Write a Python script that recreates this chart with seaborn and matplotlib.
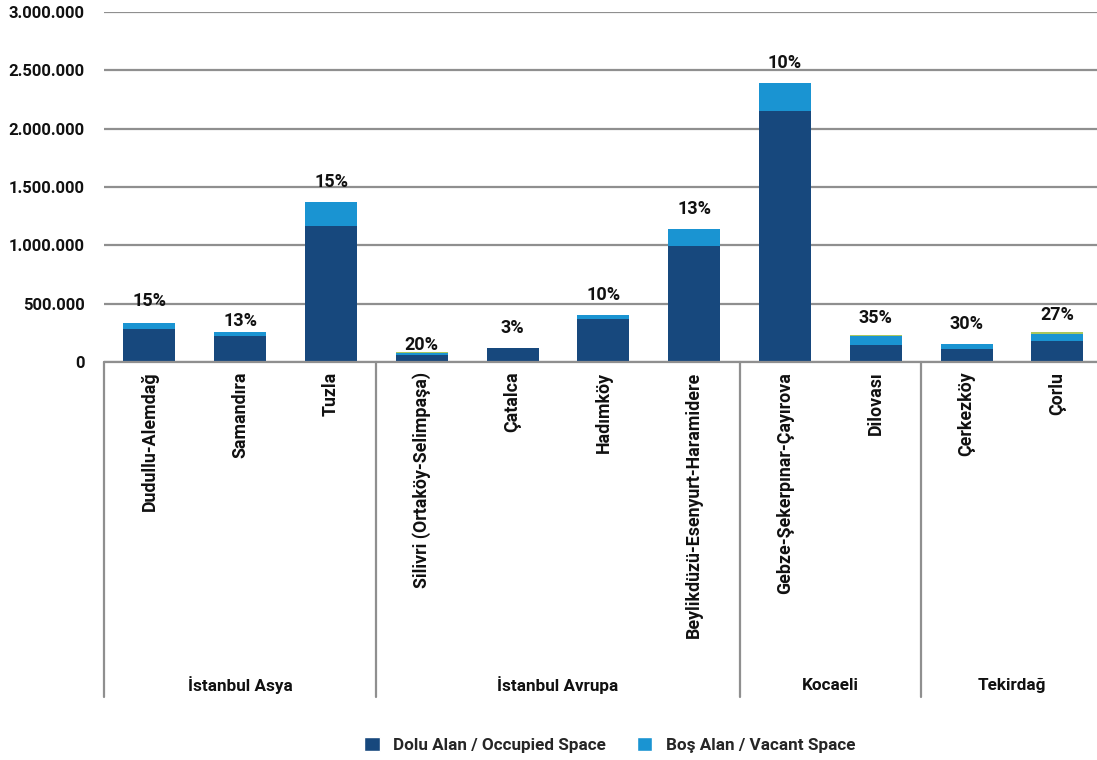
import matplotlib
matplotlib.use("Agg")
import matplotlib.pyplot as plt
import matplotlib.transforms as mtransforms
from matplotlib.patches import Patch
import pandas as pd
import seaborn as sns

# Logistics districts, grouped by region
districts = [
    "Dudullu-Alemdağ", "Samandıra", "Tuzla",
    "Silivri (Ortaköy-Selimpaşa)", "Çatalca", "Hadımköy", "Beylikdüzü-Esenyurt-Haramidere",
    "Gebze-Şekerpınar-Çayırova", "Dilovası",
    "Çerkezköy", "Çorlu",
]
regions = ["İstanbul Asya", "İstanbul Avrupa", "Kocaeli", "Tekirdağ"]
region_sizes = [3, 4, 2, 2]

# Stock in m²
occupied = [285000, 226000, 1166000, 64000, 119000, 365000, 993000, 2154000, 145000, 110000, 178000]
vacant = [50000, 34000, 206000, 16000, 4000, 41000, 148000, 239000, 78000, 47000, 66000]
other = [0, 0, 0, 9000, 0, 0, 0, 0, 10000, 0, 10000]

y_ticks = [0, 500000, 1000000, 1500000, 2000000, 2500000, 3000000]

# vertical nudges (points) for the vacancy labels
label_nudge = [1.5, -6.5, 0, -9.4, 0, 0, 0, 0, -2, 0, -1.5]

DARK = "#17487D"
LIGHT = "#1A94D2"
GREEN = "#A9C65E"
GRID = "#8F8F8F"
INK = "#111111"

sns.set_theme(style="white")
plt.rcParams["font.family"] = ["Roboto", "DejaVu Sans"]
plt.rcParams["font.weight"] = "bold"

df = pd.DataFrame({"district": districts, "occupied": occupied,
                   "vacant": vacant, "other": other})
df["with_vacant"] = df["occupied"] + df["vacant"]
df["total"] = df["with_vacant"] + df["other"]

W, H = 1097, 760
fig = plt.figure(figsize=(W / 100, H / 100), dpi=100)
ax = fig.add_axes([104 / W, 1 - 362 / H, 993 / W, 350 / H])

bar_w = 0.573
common = dict(data=df, x="district", width=bar_w, saturation=1, linewidth=0, ax=ax)
sns.barplot(y="total", color=GREEN, **common)
sns.barplot(y="with_vacant", color=LIGHT, **common)
sns.barplot(y="occupied", color=DARK, **common)

ax.set_xlim(-0.5, -0.5 + 993 / 90.8)
ax.set_ylim(0, 3000000)
ax.set_yticks(y_ticks)
ax.set_yticklabels([f"{v:,}".replace(",", ".") for v in y_ticks],
                   fontsize=12, fontweight="bold", color=INK)
ax.set_xticks(range(len(districts)))
ax.set_xticklabels(districts, rotation=90, fontsize=12.8, fontweight="bold",
                   color=INK, va="top")
ax.tick_params(axis="y", length=0, pad=14)
ax.tick_params(axis="x", length=0, pad=7)
ax.set_xlabel("")
ax.set_ylabel("")
for s in ax.spines.values():
    s.set_visible(False)
ax.yaxis.grid(True, color=GRID, linewidth=1.6)
ax.xaxis.grid(False)
ax.set_axisbelow(True)

# vacancy rate labels
for i, row in df.iterrows():
    pct = round(100 * row["vacant"] / row["with_vacant"])
    ax.annotate(f"{pct}%", (i, row["total"]), xytext=(0, 10.5 + label_nudge[i]),
                textcoords="offset points", ha="center", va="baseline",
                fontsize=13, fontweight="bold", color=INK)

# region separators and labels below the axis
trans = mtransforms.blended_transform_factory(ax.transData, ax.transAxes)
ax.plot([-0.5, 10.6], [0, 0], transform=trans, color=GRID, lw=1.6, clip_on=False)
start = 0
bounds = [-0.5]
for name, n in zip(regions, region_sizes):
    end = start + n
    bounds.append(end - 0.5)
    ax.text((start + end - 1) / 2, -0.923, name, transform=trans, ha="center",
            va="center", fontsize=12.3, fontweight="bold", color=INK)
    start = end
for b in bounds:
    ax.plot([b, b], [0, -0.957], transform=trans, color=GRID, lw=1.6, clip_on=False)

handles = [Patch(facecolor=DARK, label="Dolu Alan / Occupied Space"),
           Patch(facecolor=LIGHT, label="Boş Alan / Vacant Space")]
fig.legend(handles=handles, loc="center", bbox_to_anchor=(610 / W, 1 - 745 / H),
           ncol=2, frameon=False, fontsize=12.3, handlelength=0.9, handleheight=0.9,
           handletextpad=0.8, columnspacing=1.8)

fig.savefig("out.png", dpi=100)
